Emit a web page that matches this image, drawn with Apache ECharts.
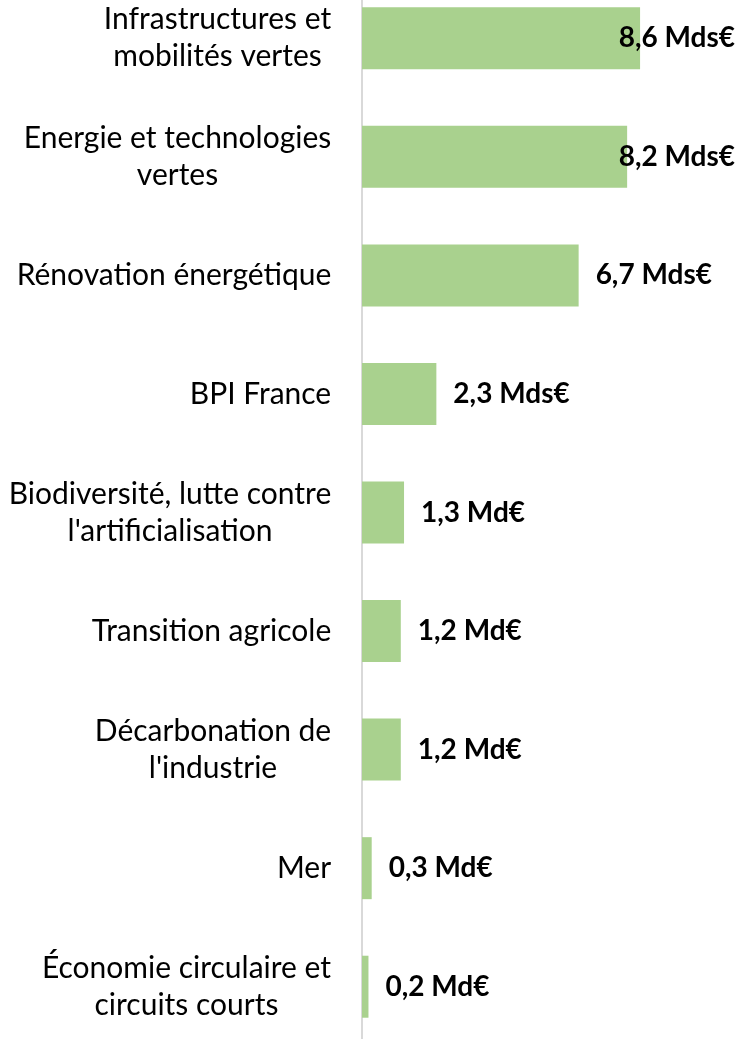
<!DOCTYPE html>
<html>
<head>
<meta charset="utf-8">
<script src="https://cdn.jsdelivr.net/npm/echarts@6/dist/echarts.min.js"></script>
<style>
html,body{margin:0;padding:0;background:#fff;overflow:hidden;}
#chart{width:741px;height:1067px;margin-top:-21px;}
</style>
</head>
<body>
<div id="chart"></div>
<script>
const categories = [
  'Infrastructures et\nmobilités vertes',
  'Energie et technologies\nvertes',
  'Rénovation énergétique',
  'BPI France',
  'Biodiversité, lutte contre\nl\'artificialisation',
  'Transition agricole',
  'Décarbonation de\nl\'industrie',
  'Mer',
  'Économie circulaire et\ncircuits courts'
];
const values = [8.6, 8.2, 6.7, 2.3, 1.3, 1.2, 1.2, 0.3, 0.2];

const FONT = 'Lato';
const CAT_SIZE = 30;
const VAL_SIZE = 28;

const ctx = document.createElement('canvas').getContext('2d');
ctx.font = CAT_SIZE + 'px ' + FONT;
const rich = {};
categories.forEach((c, i) => {
  const w = Math.max(...c.split('\n').map(l => ctx.measureText(l).width));
  rich['w' + i] = { width: Math.ceil(w) + 1, align: 'center', fontFamily: FONT, fontSize: CAT_SIZE, color: '#000', lineHeight: 37 };
});

const chart = echarts.init(document.getElementById('chart'), null, { renderer: 'canvas' });
chart.setOption({
  backgroundColor: '#ffffff',
  animation: false,
  grid: { left: 362, right: 88, top: 0, bottom: 0, containLabel: false },
  xAxis: {
    type: 'value', min: 0, max: 9,
    show: false
  },
  yAxis: {
    type: 'category',
    data: categories,
    inverse: true,
    axisLine: { show: true, lineStyle: { color: '#d9d9d9', width: 2 } },
    axisTick: { show: false },
    axisLabel: {
      margin: 30,
      align: 'right',
      formatter: (v, i) => v.split('\n').map(l => '{w' + i + '|' + l + '}').join('\n'),
      rich: rich
    }
  },
  series: [{
    type: 'bar',
    data: values,
    barWidth: 62,
    itemStyle: { color: '#a9d18e' },
    label: {
      show: true,
      position: 'right',
      distance: 17,
      fontFamily: FONT,
      fontSize: VAL_SIZE,
      fontWeight: 'bold',
      color: '#000',
      formatter: p => String(p.value).replace('.', ',') + (p.value >= 2 ? ' Mds€' : ' Md€')
    },
    labelLayout: function (params) {
      const r = params.labelRect;
      const limit = 735;
      if (r.x + r.width > limit) {
        return { x: limit - r.width, y: r.y + r.height / 2, align: 'left', verticalAlign: 'middle' };
      }
      return {};
    }
  }]
});
</script>
</body>
</html>
